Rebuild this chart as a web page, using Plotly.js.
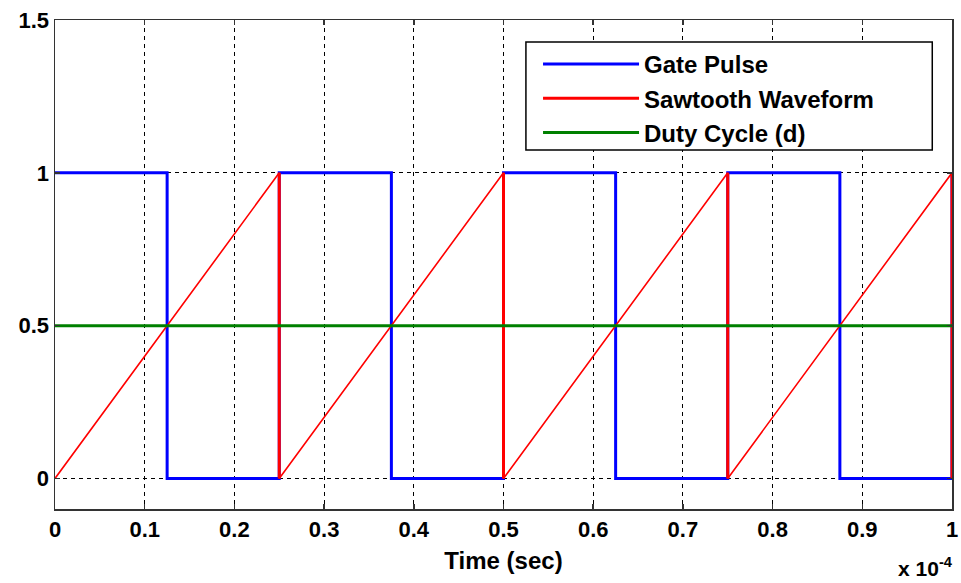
<!DOCTYPE html>
<html>
<head>
<meta charset="utf-8">
<script src="https://cdn.plot.ly/plotly-3.0.1.min.js"></script>
<style>html,body{margin:0;padding:0;background:#fff;}#chart{width:961px;height:583px;}</style>
</head>
<body>
<div id="chart"></div>
<script>
// time in units of 1e-4 s
const gateTime = [0, 0.125, 0.125, 0.25, 0.25, 0.375, 0.375, 0.5, 0.5, 0.625, 0.625, 0.75, 0.75, 0.875, 0.875, 1, 1];
const gateValue = [1, 1, 0, 0, 1, 1, 0, 0, 1, 1, 0, 0, 1, 1, 0, 0, 1];
const sawTime = [0, 0.25, 0.25, 0.5, 0.5, 0.75, 0.75, 1, 1];
const sawValue = [0, 1, 0, 1, 0, 1, 0, 1, 0];
const dutyTime = [0, 1];
const dutyValue = [0.5, 0.5];
const xTicks = [0, 0.1, 0.2, 0.3, 0.4, 0.5, 0.6, 0.7, 0.8, 0.9, 1];
const xTickText = ['0', '0.1', '0.2', '0.3', '0.4', '0.5', '0.6', '0.7', '0.8', '0.9', '1'];
const yTicks = [0, 0.5, 1, 1.5];
const yTickText = ['0', '0.5', '1', '1.5'];

const FONT = 'Liberation Sans, Arial, sans-serif';

// vertical reset edges of the sawtooth (drawn thicker, as in the reference)
const dropX = [], dropY = [];
for (let i = 1; i < sawTime.length; i++) {
  if (sawTime[i] === sawTime[i - 1]) {
    dropX.push(sawTime[i - 1], sawTime[i], null);
    dropY.push(sawValue[i - 1], sawValue[i], null);
  }
}

const traces = [
  {x: gateTime, y: gateValue, mode: 'lines', name: 'Gate Pulse',
   line: {color: '#0000ff', width: 3}},
  {x: dropX, y: dropY, mode: 'lines', name: 'Sawtooth Waveform',
   line: {color: '#ff0000', width: 3}, legendgroup: 'saw', connectgaps: false},
  {x: sawTime, y: sawValue, mode: 'lines', name: 'Sawtooth Waveform', showlegend: false,
   line: {color: '#ff0000', width: 1.6}, legendgroup: 'saw'},
  {x: dutyTime, y: dutyValue, mode: 'lines', name: 'Duty Cycle (d)',
   line: {color: '#008000', width: 3}}
];

const axisCommon = {
  showline: true, linecolor: '#333', linewidth: 1.5, mirror: 'ticks',
  ticks: 'inside', ticklen: 5, tickcolor: '#333', tickwidth: 1.5,
  showgrid: true, gridcolor: '#000', gridwidth: 1, griddash: '4px,4px',
  zeroline: false,
  tickfont: {family: FONT, size: 22, color: '#000', weight: 'bold'}
};

const layout = {
  width: 961, height: 583,
  margin: {l: 55, r: 9, t: 20, b: 74},
  paper_bgcolor: '#fff', plot_bgcolor: '#fff',
  showlegend: true,
  xaxis: Object.assign({}, axisCommon, {
    range: [0, 1], tickmode: 'array', tickvals: xTicks, ticktext: xTickText,
    title: {text: '<b>Time (sec)</b>', font: {family: FONT, size: 24, color: '#000'}, standoff: 11}
  }),
  yaxis: Object.assign({}, axisCommon, {
    range: [-0.1, 1.5], tickmode: 'array', tickvals: yTicks, ticktext: yTickText
  }),
  shapes: [{
    type: 'rect', xref: 'paper', yref: 'paper', layer: 'above',
    x0: 0.525, x1: 0.978, y0: 0.734, y1: 0.955,
    fillcolor: '#fff', line: {color: '#000', width: 1.5}
  }],
  legend: {
    x: 0.5385, y: 0.955, xanchor: 'left', yanchor: 'top',
    bgcolor: 'rgba(0,0,0,0)', borderwidth: 0,
    font: {family: FONT, size: 24, color: '#000', weight: 'bold'},
    itemwidth: 96, tracegroupgap: 0, traceorder: 'normal'
  },
  annotations: [{
    xref: 'paper', yref: 'paper', x: 1.003, y: -0.118, xanchor: 'right', yanchor: 'middle',
    showarrow: false, text: '<b>x 10<sup>-4</sup></b>',
    font: {family: FONT, size: 21, color: '#000'}
  }]
};

Plotly.newPlot('chart', traces, layout, {displayModeBar: false, staticPlot: true});
</script>
</body>
</html>
